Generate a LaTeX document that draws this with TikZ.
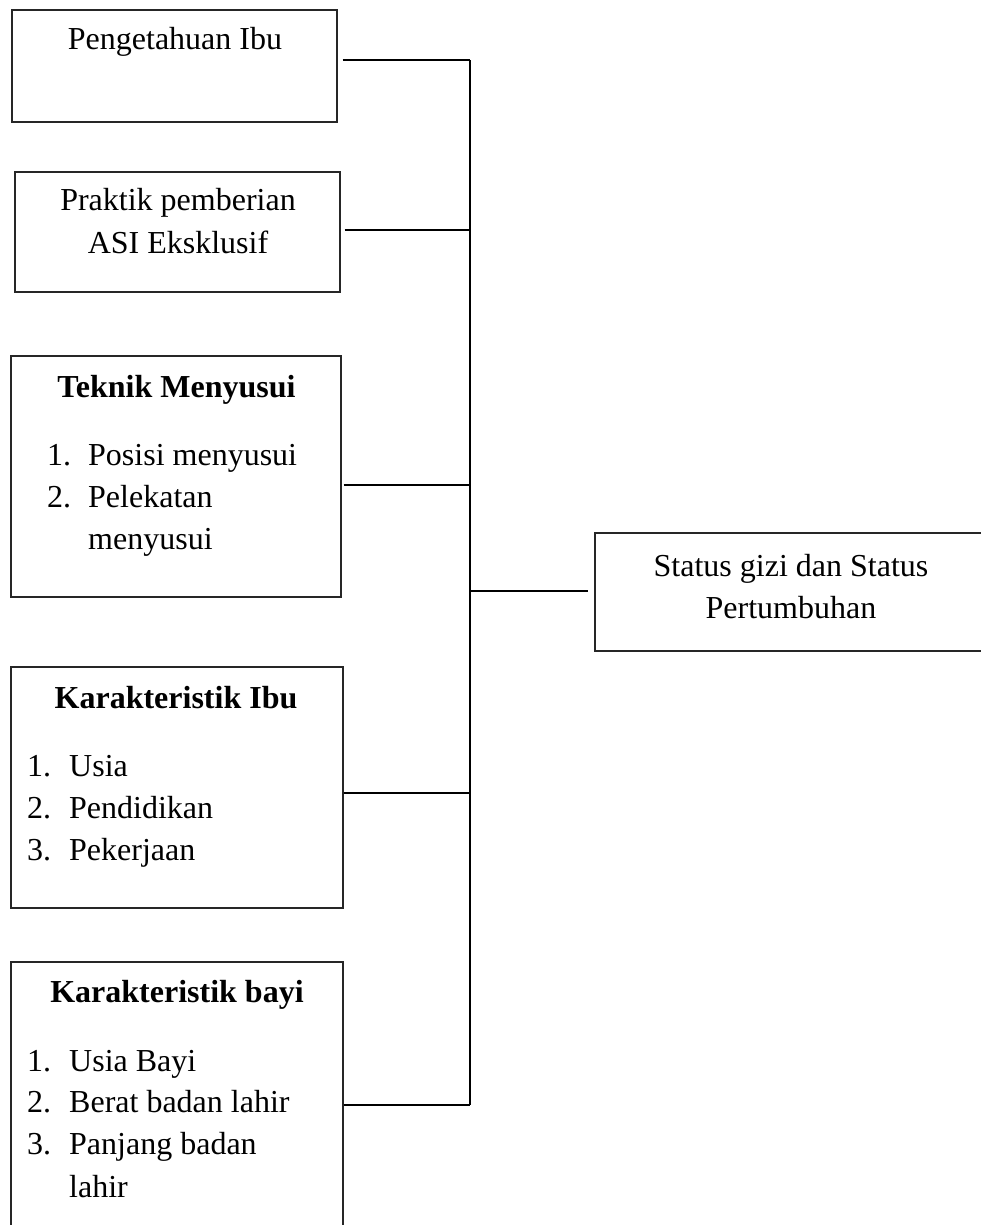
\documentclass[tikz,border=0pt]{standalone}
\usepackage{fontspec}
\setmainfont{Liberation Serif}
\begin{document}
\begin{tikzpicture}[x=1pt,y=-1pt,
  box/.style={draw=black!85,line width=1.2pt,rectangle,inner sep=0pt,fill=none},
  txt/.style={inner sep=0pt,anchor=base,font=\fontsize{32}{42}\selectfont},
  lft/.style={inner sep=0pt,anchor=base west,font=\fontsize{32}{42}\selectfont},
  ttl/.style={inner sep=0pt,anchor=base,font=\fontsize{32}{42}\selectfont\bfseries},
  conn/.style={line width=2pt,black}]
\useasboundingbox (0,0) rectangle (981,1225);
% boxes
\node[box,minimum width=325pt,minimum height=112pt] (b1) at (174.5,66) {};
\node[box,minimum width=325pt,minimum height=120pt] (b2) at (177.5,232) {};
\node[box,minimum width=330pt,minimum height=241pt] (b3) at (176,476.5) {};
\node[box,minimum width=332pt,minimum height=241pt] (b4) at (177,787.5) {};
\node[box,minimum width=332pt,minimum height=278pt] (b5) at (177,1101) {};
\node[box,minimum width=392pt,minimum height=118pt] (st) at (791,592) {};
% texts
\node[txt] (t1) at (175,50) {Pengetahuan Ibu};
\node[txt] (t2a) at (178,211) {Praktik pemberian};
\node[txt] (t2b) at (178,253) {ASI Eksklusif};
\node[ttl] (t3) at (176.5,397) {Teknik Menyusui};
\node[lft] (n31) at (47,465) {1.};
\node[lft] (i31) at (88,465) {Posisi menyusui};
\node[lft] (n32) at (47,507) {2.};
\node[lft] (i32) at (88,507) {Pelekatan};
\node[lft] (i33) at (88,549) {menyusui};
\node[ttl] (t4) at (176,708) {Karakteristik Ibu};
\node[lft] (n41) at (27,776) {1.};
\node[lft] (i41) at (69,776) {Usia};
\node[lft] (n42) at (27,818) {2.};
\node[lft] (i42) at (69,818) {Pendidikan};
\node[lft] (n43) at (27,860) {3.};
\node[lft] (i43) at (69,860) {Pekerjaan};
\node[ttl] (t5) at (177,1002) {Karakteristik bayi};
\node[lft] (n51) at (27,1071) {1.};
\node[lft] (i51) at (69,1071) {Usia Bayi};
\node[lft] (n52) at (27,1112) {2.};
\node[lft] (i52) at (69,1112) {Berat badan lahir};
\node[lft] (n53) at (27,1154) {3.};
\node[lft] (i53) at (69,1154) {Panjang badan};
\node[lft] (i54) at (69,1197) {lahir};
\node[txt] (ts1) at (791,576) {Status gizi dan Status};
\node[txt] (ts2) at (791,618) {Pertumbuhan};
% bus junctions
\coordinate (j1) at (470,60.5);
\coordinate (j2) at (470,230);
\coordinate (j3) at (470,485);
\coordinate (j4) at (470,793);
\coordinate (j5) at (470,1105);
\coordinate (js) at (470,591);
% connectors
\draw[conn] ([xshift=5pt]b1.east |- j1) -- (j1);
\draw[conn] ([xshift=4pt]b2.east |- j2) -- (j2);
\draw[conn] ([xshift=2pt]b3.east |- j3) -- (j3);
\draw[conn] (b4.east |- j4) -- (j4);
\draw[conn] (b5.east |- j5) -- (j5);
\draw[conn] (j1) -- (j5);
\draw[conn] (js) -- ([xshift=-6pt]st.west |- js);
\end{tikzpicture}
\end{document}
